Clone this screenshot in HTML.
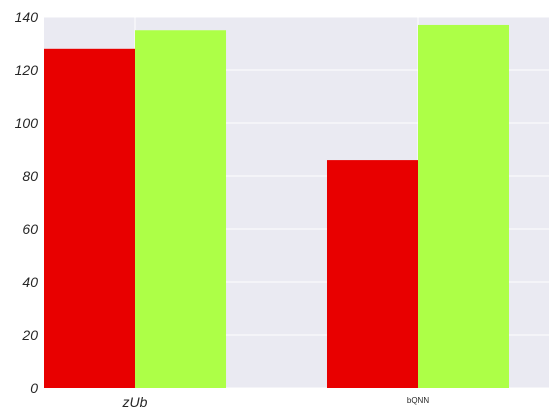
<!DOCTYPE html>
<html><head><meta charset="utf-8"><style>
body{margin:0;background:#fff;}
svg{display:block;font-family:"Liberation Sans",sans-serif;}
</style></head><body>
<svg id="chart" width="560" height="420" xmlns="http://www.w3.org/2000/svg"></svg>
<script>
const categories = ["zUb", "bQNN"];
const seriesRed = [128, 86];
const seriesGreen = [135, 137];
const yTicks = [0, 20, 40, 60, 80, 100, 120, 140];

const NS = "http://www.w3.org/2000/svg";
const svg = document.getElementById("chart");
const L = 44, R = 549, T = 17, B = 388;
const yMin = 0, yMax = 140;
const xMin = -0.3216, xMax = 1.4629;
const barW = 0.3216;
function xs(v){ return L + (v - xMin) / (xMax - xMin) * (R - L); }
function ys(v){ return B - (v - yMin) / (yMax - yMin) * (B - T); }
function mk(tag, attrs, name){
  const e = document.createElementNS(NS, tag);
  for (const k in attrs) e.setAttribute(k, attrs[k]);
  
  
  svg.appendChild(e);
  return e;
}
mk('rect', {x:L, y:T, width:R-L, height:B-T, fill:'#eaeaf2'}, 'plot-background');
yTicks.forEach(t => {
  mk('line', {x1:L, x2:R, y1:ys(t), y2:ys(t), stroke:'#fff', 'stroke-width':1}, 'y-gridline');
  const tx = mk('text', {x:L-6, y:ys(t)+5, 'text-anchor':'end', 'font-size':14, 'font-style':'italic', fill:'#262626'}, 'y-tick-label');
  tx.textContent = t;
});
categories.forEach((c, i) => {
  mk('line', {x1:xs(i), x2:xs(i), y1:T, y2:B, stroke:'#fff', 'stroke-width':1}, 'x-gridline');
});
categories.forEach((c, i) => {
  mk('rect', {x:xs(i-barW), y:ys(seriesRed[i]), width:xs(i)-xs(i-barW), height:ys(0)-ys(seriesRed[i]), fill:'#e80000'}, 'bar-red-' + c);
  mk('rect', {x:xs(i), y:ys(seriesGreen[i]), width:xs(i+barW)-xs(i), height:ys(0)-ys(seriesGreen[i]), fill:'#adff47'}, 'bar-green-' + c);
});
const l0 = mk('text', {x:xs(0), y:407, 'text-anchor':'middle', 'font-size':14, 'font-style':'italic', fill:'#262626'}, 'x-tick-label');
l0.textContent = categories[0];
const l1 = mk('text', {x:xs(1), y:403, 'text-anchor':'middle', 'font-size':8, fill:'#262626'}, 'x-tick-label');
l1.textContent = categories[1];
</script>
</body></html>
